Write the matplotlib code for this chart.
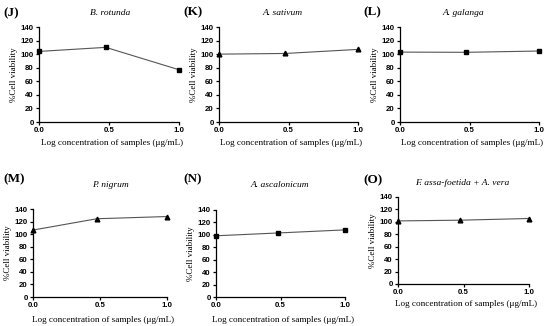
import matplotlib
matplotlib.use("Agg")
import matplotlib.pyplot as plt

W, H = 550, 326

x_log = [0.0, 0.477, 1.0]
letters = ["(J)", "(K)", "(L)", "(M)", "(N)", "(O)"]
species = ["B. rotunda", "A. sativum", "A. galanga", "P. nigrum", "A. ascalonicum",
           "F. assa-foetida + A. vera"]
via_J = [104, 110, 77]
via_K = [100, 101, 107]
via_L = [103, 102.7, 104.6]
via_M = [106.5, 124.5, 128]
via_N = [98.5, 103, 108]
via_O = [101.5, 102.7, 105.4]
values = [via_J, via_K, via_L, via_M, via_N, via_O]
markers = ["s", "^", "s", "^", "s", "^"]
yticks = [0, 20, 40, 60, 80, 100, 120, 140]
xticks = [0.0, 0.5, 1.0]
xtick_labels = ["0.0", "0.5", "1.0"]

# axes boxes in pixels: left, right, top, bottom
boxes = [(39, 179, 27, 122), (219, 358, 27, 122), (400, 539, 27, 122),
         (33, 167, 209, 297), (216, 345, 210, 297), (398, 529, 197, 284)]
letter_pos = [(3, 13), (183, 12), (363, 12), (3, 179), (183, 179), (363, 180)]
title_pos = [(110, 13), (283, 13), (463, 13), (110, 185), (280, 185), (462, 183)]
xlabel_y = [143, 143, 143, 320, 320, 304]

fig = plt.figure(figsize=(W / 100, H / 100), dpi=100)
serif = "Liberation Serif"
sans = "Liberation Sans"

for i in range(6):
    l, r, t, b = boxes[i]
    ax = fig.add_axes([l / W, 1 - b / H, (r - l) / W, (b - t) / H])
    ax.plot(x_log, values[i], color="#555555", lw=0.8, marker=markers[i],
            ms=3.4, mfc="black", mec="black", clip_on=False, zorder=3)
    ax.set_xlim(0, 1)
    ax.set_ylim(0, 140)
    ax.set_yticks(yticks)
    ax.set_xticks(xticks)
    ax.set_xticklabels(xtick_labels)
    for s in ["top", "right"]:
        ax.spines[s].set_visible(False)
    for s in ["left", "bottom"]:
        ax.spines[s].set_linewidth(0.9)
    ax.tick_params(axis="both", direction="out", length=2.5, width=0.9, pad=1.2,
                   labelsize=5.7)
    for lab in ax.get_xticklabels() + ax.get_yticklabels():
        lab.set_fontfamily(sans)
        lab.set_fontweight("bold")
    ax.set_ylabel("%Cell viability", fontsize=6.5, fontfamily=serif, labelpad=2)
    cx = (l + r) / 2 + 3
    fig.text(cx / W, 1 - xlabel_y[i] / H, "Log concentration of samples (μg/mL)",
             fontsize=6.6, fontfamily=serif, ha="center", va="center")
    lx, ly = letter_pos[i]
    fig.text(lx / W, 1 - ly / H, letters[i], fontsize=9.5, fontweight="bold",
             fontfamily=serif, ha="left", va="center")
    tx, ty = title_pos[i]
    fig.text(tx / W, 1 - ty / H, species[i], fontsize=6.8, fontstyle="italic",
             fontfamily=serif, ha="center", va="center")

fig.savefig("out.png", dpi=100)
